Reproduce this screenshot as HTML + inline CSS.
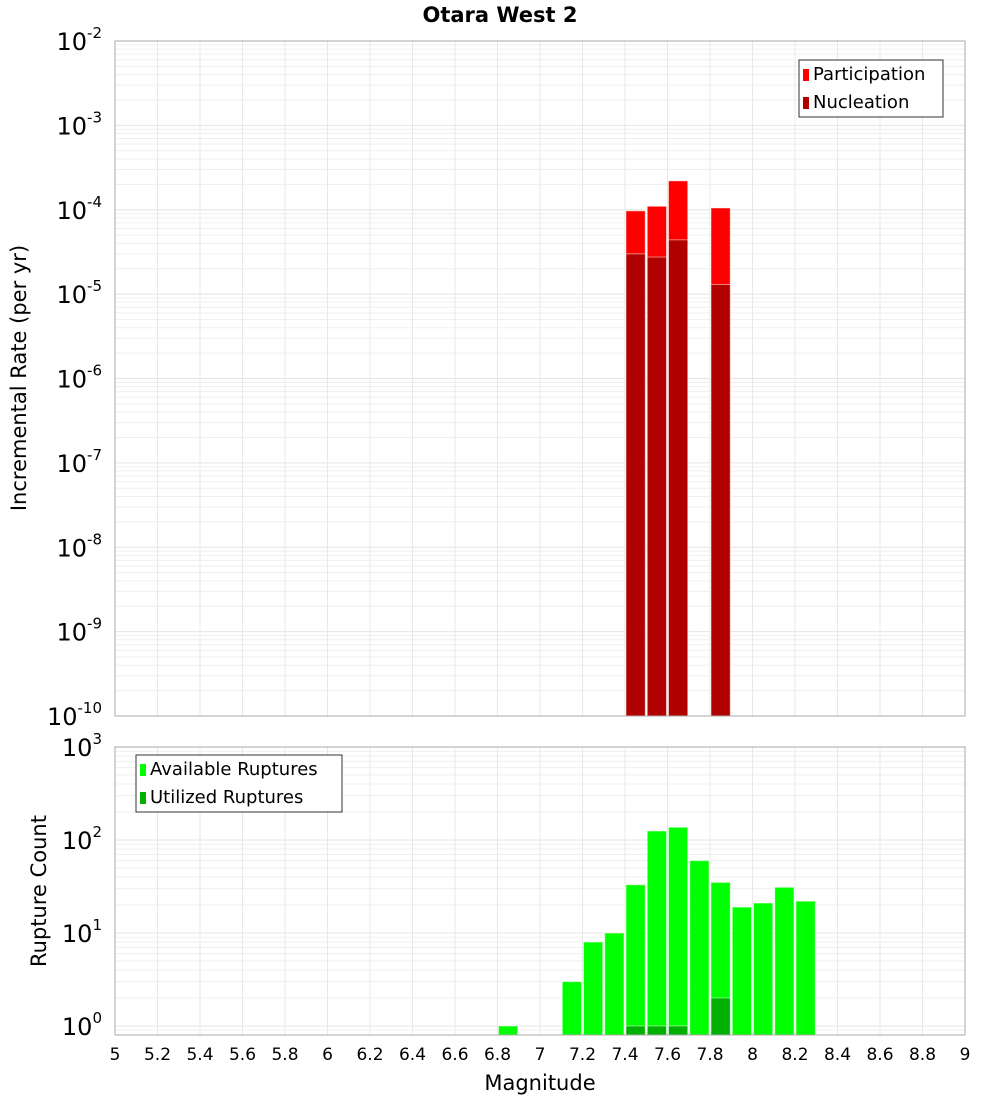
<!DOCTYPE html>
<html><head><meta charset="utf-8"><style>
body{margin:0;background:#fff;}
svg text{font-family:"DejaVu Sans","Liberation Sans",sans-serif;}
</style></head><body>
<svg id="c" width="1000" height="1100" xmlns="http://www.w3.org/2000/svg"></svg>
<script>
const bins = [6.85,7.15,7.25,7.35,7.45,7.55,7.65,7.75,7.85,7.95,8.05,8.15,8.25];
const available = [1,3.0,8,10,33,125,137,60,35,19,21,31,22];
const utilizedBins = [7.45,7.55,7.65,7.85];
const utilized = [1,1,1,2];
const rateBins = [7.45,7.55,7.65,7.85];
const participation = [9.7e-5,1.1e-4,2.2e-4,1.05e-4];
const nucleation = [3.0e-5,2.75e-5,4.4e-5,1.3e-5];
const xTicks = [5,5.2,5.4,5.6,5.8,6,6.2,6.4,6.6,6.8,7,7.2,7.4,7.6,7.8,8,8.2,8.4,8.6,8.8,9];
const topExp = [-2,-3,-4,-5,-6,-7,-8,-9,-10];
const botExp = [3,2,1,0];

const svg=document.getElementById('c');
const NS='http://www.w3.org/2000/svg';
function el(t,a,p){const e=document.createElementNS(NS,t);for(const k in a)e.setAttribute(k,a[k]);(p||svg).appendChild(e);return e;}
const X0=115,X1=965;
const x=v=>X0+(v-5)/4*(X1-X0);
const binW=0.1;
const T0=41,T1=716;
const yT=v=>T0+(-2-Math.log10(v))/8*(T1-T0);
const B0=747,B1=1035,BD=93;
const yB=v=>B0+(3-Math.log10(v))*BD;

function grid(top,bot,yf,lo,hi){
  const g=el('g',{});
  
  
  for(let d=lo;d<hi;d++)for(let m=1;m<10;m++){const v=m*Math.pow(10,d);const yy=yf(v);if(yy<top||yy>bot)continue;
    el('line',{x1:X0,x2:X1,y1:yy,y2:yy,stroke:m==1?'#e4e4e4':'#efefef','stroke-width':1},g);}
  xTicks.forEach(t=>el('line',{x1:x(t),x2:x(t),y1:top,y2:bot,stroke:'#e8e8e8','stroke-width':1},g));
}
grid(T0,T1,yT,-11,-1);
grid(B0,B1,yB,-1,3);

function bar(cx,val,base,yf,fill,name){
  const w=x(cx+binW/2)-x(cx-binW/2);
  const r=el('rect',{x:x(cx-binW/2)+1,y:yf(val),width:w-2,height:base-yf(val),fill:fill,stroke:'rgba(255,255,255,0.5)','stroke-width':1});
  
  
}
rateBins.forEach((b,i)=>bar(b,participation[i],T1,yT,'#ff0000','participation-bar'));
rateBins.forEach((b,i)=>bar(b,nucleation[i],T1,yT,'#b00000','nucleation-bar'));
bins.forEach((b,i)=>bar(b,available[i],B1,yB,'#00ff00','available-bar'));
utilizedBins.forEach((b,i)=>bar(b,utilized[i],B1,yB,'#00b000','utilized-bar'));

el('rect',{x:X0,y:T0,width:X1-X0,height:T1-T0,fill:'none',stroke:'#aaa'});
el('rect',{x:X0,y:B0,width:X1-X0,height:B1-B0,fill:'none',stroke:'#aaa'});

function txt(s,a,name){const t=el('text',a);t.textContent=s;return t;}
function powLabel(e,yy){
  const t=el('text',{x:102,y:yy+9,'font-size':24,'text-anchor':'end'});
  
  
  t.appendChild(document.createTextNode('10'));
  const s=document.createElementNS(NS,'tspan');s.setAttribute('font-size',15);s.setAttribute('dy',-12);s.textContent=String(e);t.appendChild(s);
}
topExp.forEach(e=>powLabel(e,yT(Math.pow(10,e))));
botExp.forEach(e=>powLabel(e,yB(Math.pow(10,e))));
xTicks.forEach(t=>txt(String(t),{x:x(t),y:1060,'font-size':17,'text-anchor':'middle'},'x-tick-label'));

txt('Otara West 2',{x:500,y:22,'font-size':21,'font-weight':'bold','text-anchor':'middle'},'chart-title');
txt('Magnitude',{x:540,y:1090,'font-size':21,'text-anchor':'middle'},'x-axis-title');
txt('Incremental Rate (per yr)',{x:0,y:0,'font-size':21,'text-anchor':'middle',transform:'translate(26,378) rotate(-90)'},'y-axis-title-top');
txt('Rupture Count',{x:0,y:0,'font-size':21,'text-anchor':'middle',transform:'translate(46,891) rotate(-90)'},'y-axis-title-bottom');

function legend(lx,ly,w,items,name){
  const g=el('g',{});
  
  
  el('rect',{x:lx,y:ly,width:w,height:57,fill:'#fff',stroke:'#333'},g);
  items.forEach((it,i)=>{
    el('rect',{x:lx+4,y:ly+9+i*28,width:6,height:12,fill:it[1]},g);
    const t=el('text',{x:lx+14,y:ly+20+i*28,'font-size':18},g);t.textContent=it[0];
  });
}
legend(799,60,144,[['Participation','#ff0000'],['Nucleation','#b00000']],'legend-top');
legend(136,755,206,[['Available Ruptures','#00ff00'],['Utilized Ruptures','#00b000']],'legend-bottom');
</script>
</body></html>
